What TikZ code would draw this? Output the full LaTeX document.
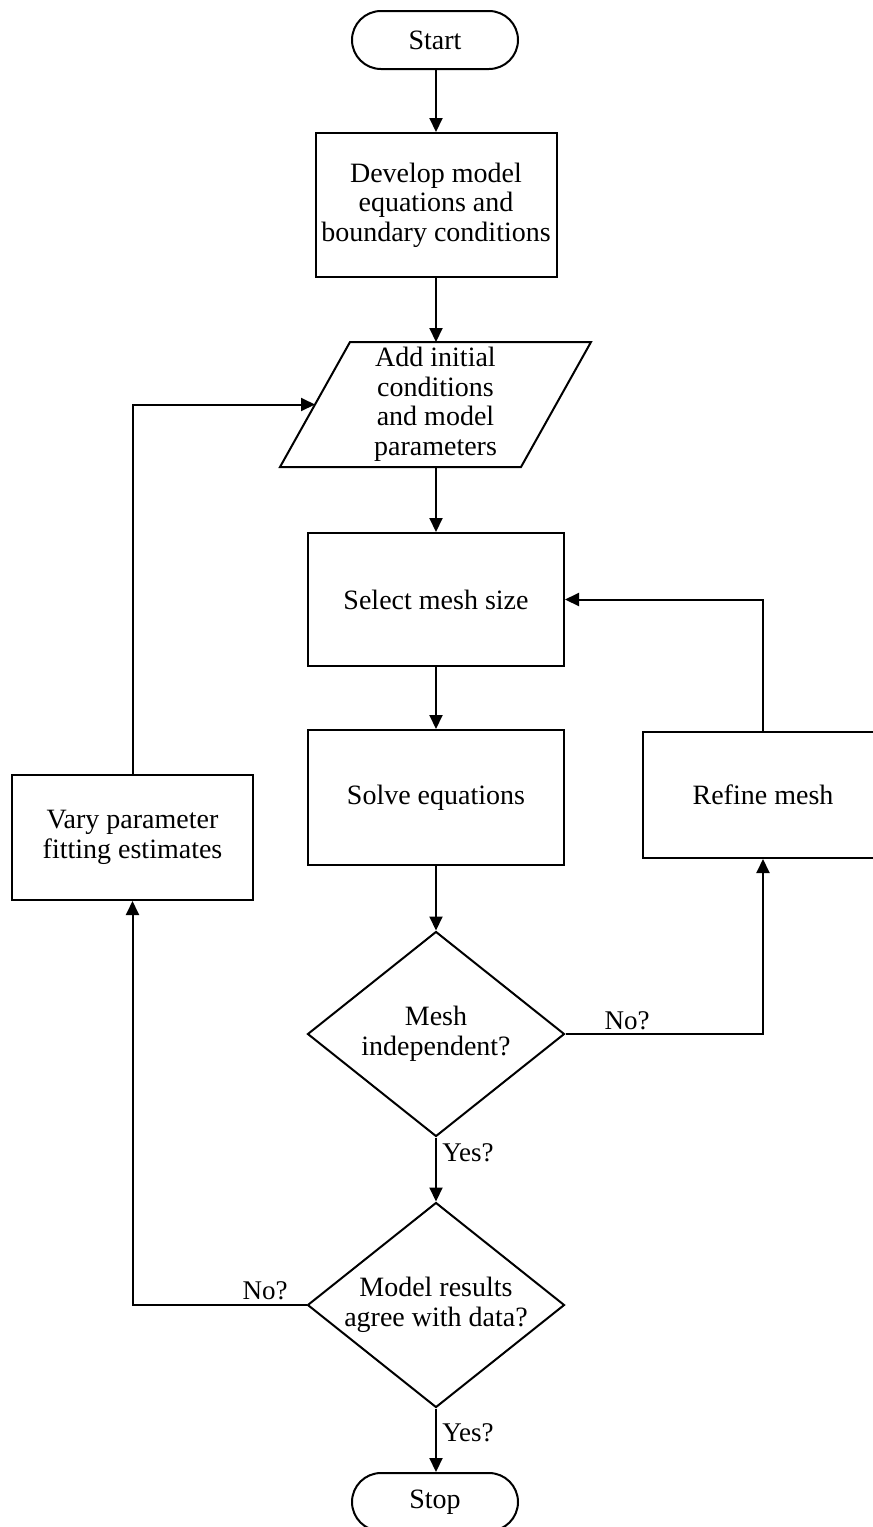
\documentclass[tikz,border=0pt]{standalone}
\usepackage{fontspec}
\setmainfont{Liberation Serif}
\usetikzlibrary{shapes.geometric,arrows.meta}
\begin{document}
\begin{tikzpicture}[x=1pt,y=-1pt,
  every node/.style={font=\fontsize{28}{29.5}\selectfont},
  box/.style={draw,line width=2pt,rectangle,inner sep=0pt,align=center},
  term/.style={box,rounded corners=29pt,minimum width=166pt,minimum height=58pt},
  dia/.style={draw,line width=2pt,diamond,inner sep=0pt,minimum width=257pt,minimum height=205pt},
  shapeline/.style={draw,line width=2pt,line join=miter},
  arr/.style={line width=2pt,-{Triangle[length=14pt,width=13pt]}},
  lbl/.style={font=\fontsize{27}{29}\selectfont,inner sep=0pt}]
\path[use as bounding box,clip] (0,0) rectangle (873,1527);
\fill[white] (0,0) rectangle (873,1527);

\node[term] (start) at (435,40) {Start};
\node[box,minimum width=241pt,minimum height=144pt] (dev) at (436,205) {Develop model\\equations and\\boundary conditions};
% parallelogram
\path[shapeline] (350,342) -- (591,342) -- (521,467) -- (280,467) -- cycle;
\coordinate (parN) at (436,342);
\coordinate (parS) at (436,467);
\coordinate (parW) at (315,404.5);
\node[align=center,inner sep=0pt] (partext) at (435.5,404.5) {Add initial\\conditions\\and model\\parameters};
\node[box,minimum width=256pt,minimum height=133pt] (select) at (436,599.5) {Select mesh size};
\node[box,minimum width=256pt,minimum height=135pt] (solve) at (436,797.5) {Solve equations};
\node[box,minimum width=240pt,minimum height=126pt] (refine) at (763,795) {Refine mesh};
\node[box,minimum width=241pt,minimum height=125pt] (vary) at (132.5,837.5) {Vary parameter\\fitting estimates};
\node[dia] (d1) at (436,1034) {};
\node[align=center,inner sep=0pt] (d1text) at (d1.center) {Mesh\\independent?};
\node[dia] (d2) at (436,1305) {};
\node[align=center,inner sep=0pt] (d2text) at (d2.center) {Model results\\agree with data?};
\node[term] (stop) at (435,1502) {Stop};

\draw[arr] (start.south -| dev.north) -- (dev.north);
\draw[arr] (dev.south) -- (parN);
\draw[arr] (parS) -- (select.north);
\draw[arr] (select.south) -- (solve.north);
\draw[arr] (solve.south) -- (d1.north);
\draw[arr] (d1.south) -- (d2.north);
\draw[arr] (d2.south) -- (d2.south |- stop.north);
\draw[arr] (d1.east) -| (refine.south);
\draw[arr] (refine.north) |- (select.east);
\draw[arr] (d2.west) -| (vary.south);
\draw[arr] (vary.north) |- (parW);

\node[lbl] (no1) at (627,1021) {No?};
\node[lbl] (yes1) at (468,1153) {Yes?};
\node[lbl] (no2) at (265,1291) {No?};
\node[lbl] (yes2) at (468,1433) {Yes?};
\end{tikzpicture}
\end{document}
